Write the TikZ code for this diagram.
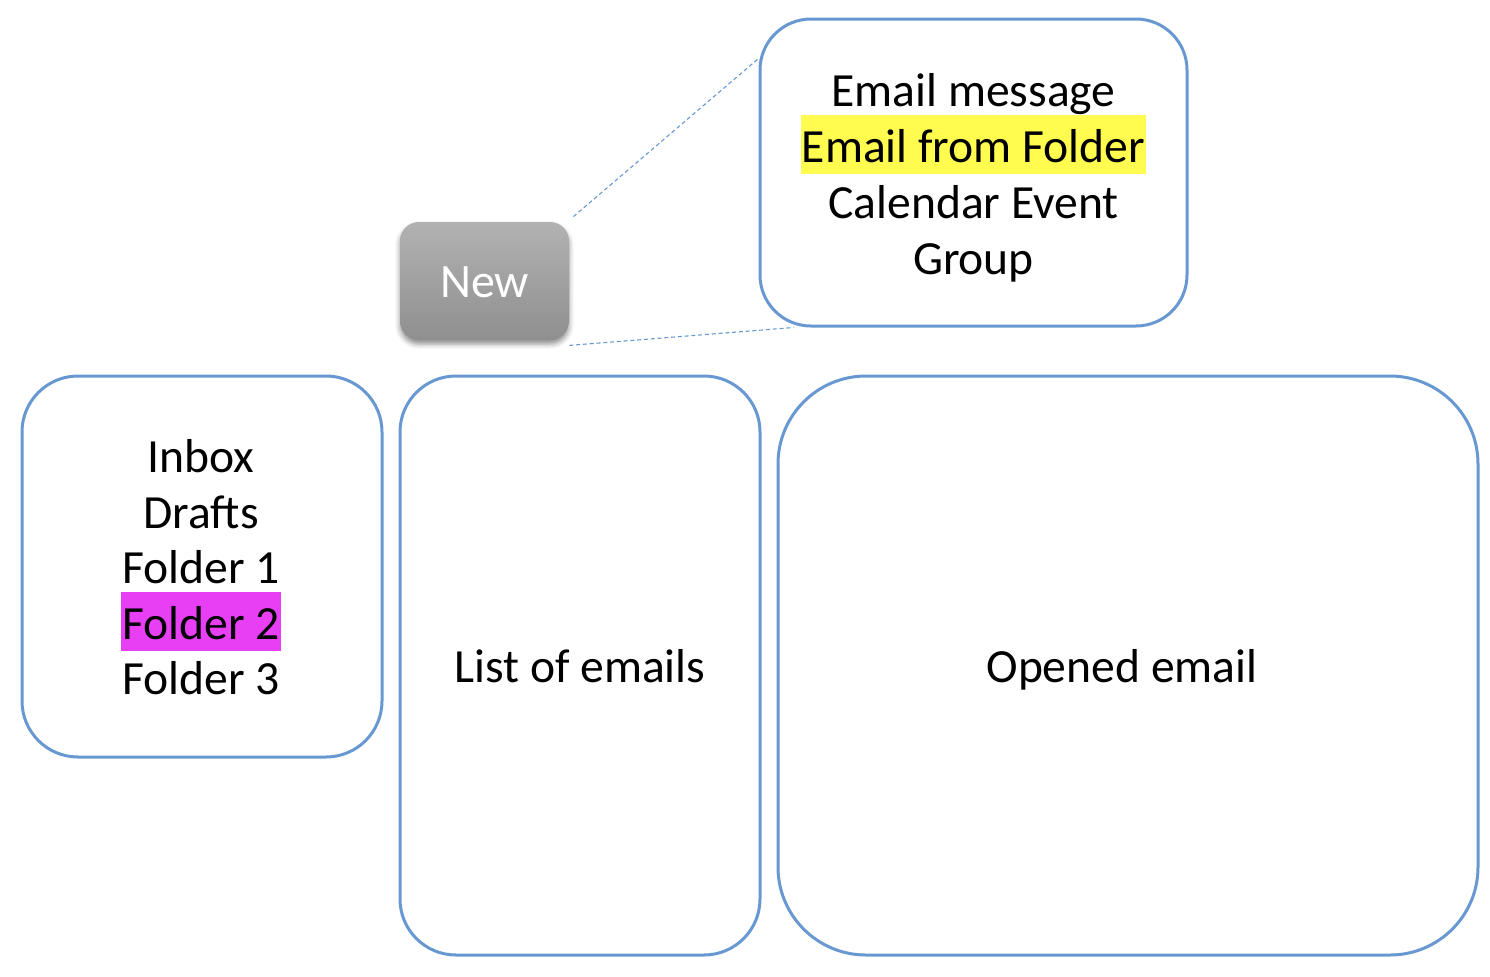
\documentclass[tikz,border=0pt]{standalone}
\usepackage{fontspec}
\setmainfont{Carlito}
\usetikzlibrary{calc,shadows.blur}
\definecolor{boxblue}{RGB}{104,152,210}
\definecolor{hlyellow}{RGB}{255,252,79}
\definecolor{hlmagenta}{RGB}{232,63,245}
\definecolor{btntop}{RGB}{178,178,178}
\definecolor{btnbot}{RGB}{143,143,143}
\newcommand\hlbox[2]{{\setlength\fboxsep{0pt}\colorbox{#1}{\rule[-6pt]{0pt}{29.3pt}\hspace{0.6pt}#2\hspace{0.6pt}}}}
\tikzset{
  panel/.style={draw=boxblue, line width=1.5pt, fill=white, inner sep=0pt, rectangle},
  lbl/.style={anchor=base, inner sep=0pt, font=\fontsize{23.8}{28}\selectfont},
  leader/.style={draw=boxblue, line width=0.55pt, dash pattern=on 2pt off 1.4pt},
}
\begin{document}
\begin{tikzpicture}[x=0.5pt,y=-0.5pt]
\useasboundingbox (0,0) rectangle (1490,976);

% panels
\node[panel, minimum width=213.5pt, minimum height=153.5pt, rounded corners=25.5pt] (menu) at (973.5,172.5) {};
\node[panel, minimum width=180pt, minimum height=190.5pt, rounded corners=28pt] (folders) at (202,566.5) {};
\node[panel, minimum width=180pt, minimum height=289.5pt, rounded corners=28pt] (list) at (580,665.5) {};
\node[panel, minimum width=350pt, minimum height=289.5pt, rounded corners=44pt] (opened) at (1128,665.5) {};

% New button
\node[rectangle, rounded corners=9.5pt, minimum width=84.5pt, minimum height=59pt, inner sep=0pt,
      top color=btntop, bottom color=btnbot, draw=none,
      blur shadow={shadow xshift=0pt, shadow yshift=-2pt, shadow blur radius=2.5pt, shadow opacity=45}]
      (new) at (484.5,281) {};
\node[anchor=base, inner sep=0pt, text=white, font=\fontsize{24}{29}\selectfont] (newtxt) at (484.5,297) {New};

% dashed leader lines
\coordinate (a1) at ($(new.north east)+(4,-5)$);
\coordinate (b1) at ($(menu.north west)+(0,41)$);
\coordinate (a2) at ($(new.south east)+(0,5)$);
\coordinate (b2) at ($(menu.south west)+(35,0)$);
\draw[leader] (a1) -- (b1);
\draw[leader] (a2) -- (b2);

% menu items
\node[lbl] (m1) at (973.5,106) {Email message};
\node[lbl] (m2) at (973.5,162) {\hlbox{hlyellow}{Email from Folder}};
\node[lbl] (m3) at (973.5,218) {Calendar Event};
\node[lbl] (m4) at (973.5,274) {Group};

% folders
\node[lbl] (f1) at (201,472) {Inbox};
\node[lbl] (f2) at (201,528) {Drafts};
\node[lbl] (f3) at (201,583) {Folder 1};
\node[lbl] (f4) at (201,639) {\hlbox{hlmagenta}{Folder 2}};
\node[lbl] (f5) at (201,694) {Folder 3};

% other labels
\node[lbl] (ltxt) at (580,682) {List of emails};
\node[lbl] (otxt) at (1122,682) {Opened email};
\end{tikzpicture}
\end{document}
